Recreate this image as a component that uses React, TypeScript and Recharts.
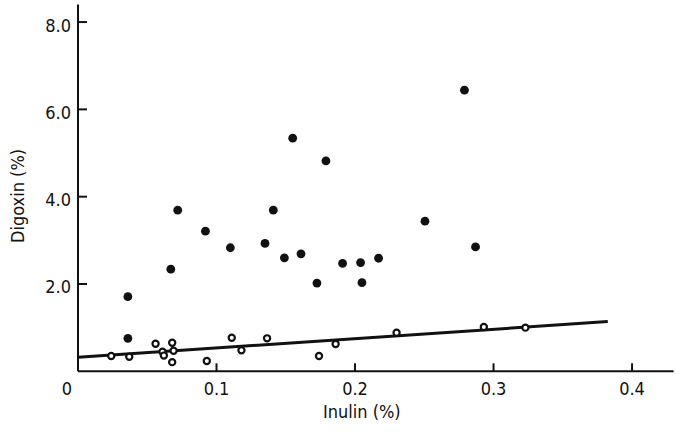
import { ScatterChart, Scatter, XAxis, YAxis } from 'recharts'

// filled circles
const filledX = [0.036, 0.036, 0.067, 0.072, 0.092, 0.11, 0.135, 0.141, 0.149, 0.155, 0.161, 0.1725, 0.179, 0.191, 0.204, 0.205, 0.217, 0.2505, 0.279, 0.287]
const filledY = [1.71, 0.755, 2.34, 3.69, 3.21, 2.83, 2.93, 3.69, 2.6, 5.34, 2.69, 2.02, 4.82, 2.47, 2.49, 2.03, 2.59, 3.44, 6.44, 2.85]

// open circles
const openX = [0.024, 0.037, 0.056, 0.061, 0.062, 0.068, 0.069, 0.068, 0.093, 0.111, 0.118, 0.1365, 0.174, 0.186, 0.23, 0.293, 0.323]
const openY = [0.35, 0.335, 0.63, 0.45, 0.36, 0.655, 0.47, 0.21, 0.235, 0.77, 0.48, 0.755, 0.35, 0.625, 0.885, 1.015, 1.0]

// fitted line through the open circles
const fitX = [0, 0.3825]
const fitY = [0.32, 1.14]

const xTicks = [0, 0.1, 0.2, 0.3, 0.4]
const xTickLabels = ['0', '0.1', '0.2', '0.3', '0.4']
const yTicks = [2, 4, 6, 8]
const yTickLabels = ['2.0', '4.0', '6.0', '8.0']

const filled = filledX.map((x, i) => ({ x, y: filledY[i] }))
const open = openX.map((x, i) => ({ x, y: openY[i] }))
const fit = fitX.map((x, i) => ({ x, y: fitY[i] }))

const FONT = '"DejaVu Sans Condensed", "Liberation Sans Narrow", sans-serif'
const INK = '#111'

function XTick(props: any) {
  const { x, y, index } = props
  const shift = index === 0 ? -11 : 0
  return (
    <g>
      {index > 0 && <line x1={x} y1={y} x2={x} y2={y - 8} stroke={INK} strokeWidth={2} />}
      <text x={x + shift} y={y + 24} textAnchor="middle" fontSize={18} fontFamily={FONT} fill={INK}>
        {xTickLabels[index]}
      </text>
    </g>
  )
}

function YTick(props: any) {
  const { x, y, index } = props
  return (
    <g>
      <line x1={x} y1={y} x2={x + 9} y2={y} stroke={INK} strokeWidth={2} />
      <text x={x - 7} y={y + 9.5} textAnchor="end" fontSize={18} fontFamily={FONT} fill={INK}>
        {yTickLabels[index]}
      </text>
    </g>
  )
}

const Dot = (props: any) => <circle cx={props.cx} cy={props.cy} r={4.4} fill={INK} />
const Ring = (props: any) => (
  <circle cx={props.cx} cy={props.cy} r={3.1} fill="#fff" stroke={INK} strokeWidth={2.2} />
)
const NoShape = () => <g />

export default function App() {
  return (
    <div style={{ position: 'absolute', left: 0, top: 0, width: 676, height: 432, background: '#fff' }}>
      <ScatterChart width={676} height={432} margin={{ top: 4.6, right: 2.4, bottom: 0, left: 0 }}>
        <XAxis
          type="number"
          dataKey="x"
          domain={[0, 0.43]}
          ticks={xTicks}
          allowDataOverflow
          height={60.7}
          tickSize={0}
          tickMargin={0}
          tickLine={false}
          axisLine={{ stroke: INK, strokeWidth: 2 }}
          tick={<XTick />}
          interval={0}
          label={{
            content: ({ viewBox }: any) => (
              <text
                x={viewBox.x + viewBox.width / 2 - 14}
                y={viewBox.y + 47}
                textAnchor="middle"
                fontSize={18}
                fontFamily={FONT}
                fill={INK}
              >
                Inulin (%)
              </text>
            ),
          }}
        />
        <YAxis
          type="number"
          dataKey="y"
          domain={[0, 8.4]}
          ticks={yTicks}
          allowDataOverflow
          width={78}
          tickSize={0}
          tickMargin={0}
          tickLine={false}
          axisLine={{ stroke: INK, strokeWidth: 2 }}
          tick={<YTick />}
          interval={0}
          label={{
            content: ({ viewBox }: any) => {
              const cx = 18
              const cy = viewBox.y + viewBox.height / 2 + 8
              return (
                <text
                  x={cx}
                  y={cy}
                  transform={`rotate(-90 ${cx} ${cy})`}
                  textAnchor="middle"
                  dominantBaseline="central"
                  fontSize={18}
                  fontFamily={FONT}
                  fill={INK}
                >
                  Digoxin (%)
                </text>
              )
            },
          }}
        />
        <Scatter data={fit} line={{ stroke: INK, strokeWidth: 3 }} shape={<NoShape />} isAnimationActive={false} />
        <Scatter data={open} shape={<Ring />} isAnimationActive={false} />
        <Scatter data={filled} shape={<Dot />} isAnimationActive={false} />
      </ScatterChart>
    </div>
  )
}
